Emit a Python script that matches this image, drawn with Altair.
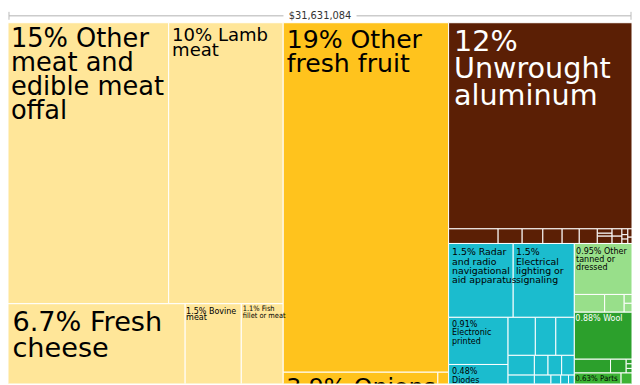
import altair as alt
import pandas as pd

TOTAL = 31631084
TITLE = "$31,631,084"

# ---------------- data: product, sector, share of total (%) ----------------
animal_names = ["Other meat and edible meat offal", "Lamb meat", "Fresh cheese",
                "Other animal products (a)", "Bovine meat", "Other animal products (b)",
                "Fish fillet or meat", "Other animal products (c)"]
animal_shares = [14.65, 10.45, 6.70, 5.53, 1.50, 2.377, 1.10, 1.794]

vegetable_names = ["Other fresh fruit", "Onions", "Other vegetable products (a)",
                   "Other vegetable products (b)", "Other vegetable products (c)",
                   "Other vegetable products (d)"]
vegetable_shares = [18.76, 3.90, 3.338, 0.20, 0.152, 0.15]

metal_names = ["Unwrought aluminum", "Metal 1", "Metal 2", "Metal 3", "Metal 4", "Metal 5",
               "Metal 6", "Metal 7", "Metal 8", "Metal 9", "Metal 10", "Metal 11",
               "Metal 12", "Metal 13", "Metal 14", "Metal 15", "Metal 16"]
metal_shares = [12.27, 0.2354, 0.1142, 0.0983, 0.0917, 0.0814, 0.0857,
                0.0211, 0.0140, 0.0351, 0.0234, 0.0234, 0.0112, 0.0085, 0.0084,
                0.0112, 0.0085]

machine_names = ["Radar and radio navigational aid apparatus", "Electrical lighting or signaling",
                 "Electronic printed", "Diodes", "Machine 1", "Machine 2",
                 "Machine 3", "Machine 4", "Machine 5",
                 "Machine 6", "Machine 7", "Machine 8", "Machine 9",
                 "Machine 10", "Machine 11", "Machine 12", "Machine 13", "Machine 14",
                 "Machine 15", "Machine 16"]
machine_shares = [1.549, 1.466, 0.91, 0.48, 1.30, 1.153,
                  0.3368, 0.2526, 0.2286,
                  0.1688, 0.0875, 0.0875, 0.0813,
                  0.1266, 0.0797, 0.0469, 0.0375, 0.0281,
                  1.50, 1.221]

hide_names = ["Other tanned or dressed", "Hide 1", "Hide 2", "Hide 3", "Hide 4"]
hide_shares = [0.954, 0.1744, 0.1125, 0.0225, 0.0225]

textile_names = ["Wool", "Textile 1", "Textile 2", "Textile 3", "Textile 4", "Textile 5"]
textile_shares = [0.88, 0.162, 0.070, 0.0087, 0.0087, 0.0086]

footwear_names = ["Parts", "Footwear 1"]
footwear_shares = [0.63, 0.147]

other_names = ["Other products"]
other_shares = [1.907]

SECTORS = [
    ("Animal Products", animal_names, animal_shares),
    ("Vegetable Products", vegetable_names, vegetable_shares),
    ("Metals", metal_names, metal_shares),
    ("Machines", machine_names, machine_shares),
    ("Animal Hides", hide_names, hide_shares),
    ("Textiles", textile_names, textile_shares),
    ("Footwear and Headwear", footwear_names, footwear_shares),
    ("Other", other_names, other_shares),
]

# ---------------- styles ----------------
SECTOR_COLORS = {
    "Animal Products": "#FFE699",
    "Vegetable Products": "#FFC31D",
    "Metals": "#5B1F05",
    "Machines": "#1BBCCE",
    "Animal Hides": "#98DF8A",
    "Textiles": "#2CA02C",
    "Footwear and Headwear": "#3CB334",
    "Other": "#BBBBBB",
}

# layout of the squarified tree (split direction + order of children)
LAYOUT = ("H", [
    ("V", [
        ("H", ["Other meat and edible meat offal", "Lamb meat"]),
        ("H", [("V", ["Fresh cheese", "Other animal products (a)"]),
               ("V", ["Bovine meat", "Other animal products (b)"]),
               ("V", ["Fish fillet or meat", "Other animal products (c)"])]),
    ]),
    ("V", [
        "Other fresh fruit",
        ("H", [("V", ["Onions", "Other vegetable products (a)"]),
               ("V", ["Other vegetable products (b)", "Other vegetable products (c)",
                      "Other vegetable products (d)"])]),
    ]),
    ("V", [
        ("V", ["Unwrought aluminum",
               ("H", ["Metal 1", "Metal 2", "Metal 3", "Metal 4", "Metal 5", "Metal 6",
                      ("V", ["Metal 7", "Metal 8", "Metal 9"]),
                      ("V", ["Metal 10", "Metal 11"]),
                      ("V", ["Metal 12", "Metal 13", "Metal 14"]),
                      ("V", ["Metal 15", "Metal 16"])])]),
        ("H", [
            ("V", [("H", ["Radar and radio navigational aid apparatus",
                          "Electrical lighting or signaling"]),
                   ("H", [("V", ["Electronic printed", "Diodes", "Machine 1", "Machine 2"]),
                          ("V", [("H", ["Machine 3", "Machine 4", "Machine 5"]),
                                 ("H", ["Machine 6", "Machine 7", "Machine 8", "Machine 9"]),
                                 ("H", ["Machine 10", "Machine 11", "Machine 12",
                                        "Machine 13", "Machine 14"]),
                                 "Machine 15", "Machine 16"])])]),
            ("V", [("V", ["Other tanned or dressed",
                          ("H", ["Hide 1", "Hide 2", ("V", ["Hide 3", "Hide 4"])])]),
                   ("V", ["Wool",
                          ("H", ["Textile 1", "Textile 2",
                                 ("V", ["Textile 3", "Textile 4", "Textile 5"])])]),
                   ("H", ["Parts", "Footwear 1"]),
                   "Other products"]),
        ]),
    ]),
])

# label style: font size, line height, x pad, first baseline, font, wrapped lines
LABELS = {
    "Other meat and edible meat offal": (26, 24.2, 3, 24.8, "r", ["Other", "meat and", "edible meat", "offal"]),
    "Lamb meat": (18.3, 15, 3.5, 18.8, "r", ["Lamb", "meat"]),
    "Fresh cheese": (27.5, 26.7, 4.5, 27.7, "r", ["Fresh", "cheese"]),
    "Bovine meat": (9, 7, 1, 10, "c", ["Bovine", "meat"]),
    "Fish fillet or meat": (7.5, 6.7, 1.5, 7.7, "c", ["Fish", "fillet or meat"]),
    "Other fresh fruit": (25.5, 24.3, 3.5, 25.5, "r", ["Other", "fresh fruit"]),
    "Onions": (24, 24, 3, 23.5, "r", ["Onions"]),
    "Unwrought aluminum": (29, 27.5, 5.5, 28.2, "r", ["", "Unwrought", "aluminum"]),
    "Radar and radio navigational aid apparatus": (9.5, 9.4, 3.5, 12, "r", ["Radar", "and radio", "navigational", "aid apparatus"]),
    "Electrical lighting or signaling": (9.5, 9.3, 2.8, 12, "r", ["", "Electrical", "lighting or", "signaling"]),
    "Electronic printed": (9, 8.8, 3.5, 9.5, "c", ["", "Electronic", "printed"]),
    "Diodes": (9, 8.8, 3.5, 9.5, "c", ["", "Diodes"]),
    "Other tanned or dressed": (9, 8.2, 1.8, 10.3, "c", ["Other", "tanned or", "dressed"]),
    "Wool": (9, 9, 1, 9, "c", ["Wool"]),
    "Parts": (8, 8, 1, 8, "c", ["Parts"]),
}

# treemap box in reference pixel units
BOX = (0, 19.5, 640, 519.5)

# ---------------- build tables ----------------
rows = []
for sector, names, shares in SECTORS:
    for n, s in zip(names, shares):
        rows.append({"name": n, "sector": sector, "value": round(s / 100 * TOTAL)})
df = pd.DataFrame(rows)
value_of = dict(zip(df["name"], df["value"]))
grand = df["value"].sum()


def size(node):
    if isinstance(node, str):
        return value_of[node]
    return sum(size(k) for k in node[1])


rects = {}


def place(node, x0, y0, x1, y1):
    if isinstance(node, str):
        rects[node] = (x0, y0, x1, y1)
        return
    kind, kids = node
    tot = size(node)
    pos = x0 if kind == "H" else y0
    for k in kids:
        f = size(k) / tot
        if kind == "H":
            w = (x1 - x0) * f
            place(k, pos, y0, pos + w, y1)
            pos += w
        else:
            h = (y1 - y0) * f
            place(k, x0, pos, x1, pos + h)
            pos += h


place(LAYOUT, *BOX)

df["x0"] = df["name"].map(lambda n: rects[n][0])
df["y0"] = df["name"].map(lambda n: rects[n][1])
df["x1"] = df["name"].map(lambda n: rects[n][2])
df["y1"] = df["name"].map(lambda n: rects[n][3])
df["fill"] = df["sector"].map(SECTOR_COLORS)
df["pct"] = df["value"] / grand * 100


def lum(hexc):
    r, g, b = (int(hexc[i:i + 2], 16) / 255 for i in (1, 3, 5))
    return 0.299 * r + 0.587 * g + 0.114 * b


def fmt(p):
    return "{:.2g}%".format(p)


lines = []
for _, r in df.iterrows():
    if r["name"] not in LABELS:
        continue
    fs, lh, dx, dy, font, wrap = LABELS[r["name"]]
    tc = "#ffffff" if lum(r["fill"]) < 0.45 else "#000000"
    for i, t in enumerate(wrap):
        txt = (fmt(r["pct"]) + " " + t).strip() if i == 0 else t
        lines.append({"x": r["x0"] + dx, "y": r["y0"] + dy + i * lh, "text": txt,
                      "fs": fs, "tc": tc, "font": font})
lab = pd.DataFrame(lines)

# ---------------- chart ----------------
W, H = 632, 377
x_scale = alt.Scale(domain=[0, 640], range=[0, W], nice=False, zero=False)
y_scale = alt.Scale(domain=[8, 385], range=[0, H], nice=False, zero=False)

tiles = alt.Chart(df).mark_rect(stroke="white", strokeWidth=1, clip=True).encode(
    x=alt.X("x0:Q", scale=x_scale, axis=None),
    x2="x1:Q",
    y=alt.Y("y0:Q", scale=y_scale, axis=None),
    y2="y1:Q",
    color=alt.Color("fill:N", scale=None, legend=None),
    tooltip=["name:N", "sector:N", alt.Tooltip("value:Q", format="$,")],
)


def text_layer(font_key, family):
    return alt.Chart(lab[lab["font"] == font_key]).mark_text(
        align="left", baseline="alphabetic", font=family, clip=True
    ).encode(
        x=alt.X("x:Q", scale=x_scale, axis=None),
        y=alt.Y("y:Q", scale=y_scale, axis=None),
        text="text:N",
        size=alt.Size("fs:Q", scale=None, legend=None),
        color=alt.Color("tc:N", scale=None, legend=None),
    )


regular = text_layer("r", "DejaVu Sans")
condensed = text_layer("c", "DejaVu Sans Condensed")

one = pd.DataFrame({"t": [TITLE]})
title_line = alt.Chart(one).mark_rule(color="#cccccc", strokeWidth=1.5).encode(
    x=alt.value(1), x2=alt.value(W - 1), y=alt.value(4.5))
tick_l = alt.Chart(one).mark_rule(color="#bbbbbb", strokeWidth=1).encode(
    x=alt.value(1), y=alt.value(0.5), y2=alt.value(8.5))
tick_r = alt.Chart(one).mark_rule(color="#bbbbbb", strokeWidth=1).encode(
    x=alt.value(W - 1), y=alt.value(0.5), y2=alt.value(8.5))
gap = alt.Chart(one).mark_rect(color="white").encode(
    x=alt.value(W / 2 - 37), x2=alt.value(W / 2 + 37), y=alt.value(0), y2=alt.value(10))
title_text = alt.Chart(one).mark_text(
    font="DejaVu Sans", fontSize=10, color="#333333", align="center", baseline="middle"
).encode(x=alt.value(W / 2), y=alt.value(4.5), text="t:N")

chart = alt.layer(
    tiles, regular, condensed, title_line, tick_l, tick_r, gap, title_text
).properties(width=W, height=H, padding=0).configure_view(strokeWidth=0)

chart.save("out.html", embed_options={"renderer": "svg", "actions": False})
